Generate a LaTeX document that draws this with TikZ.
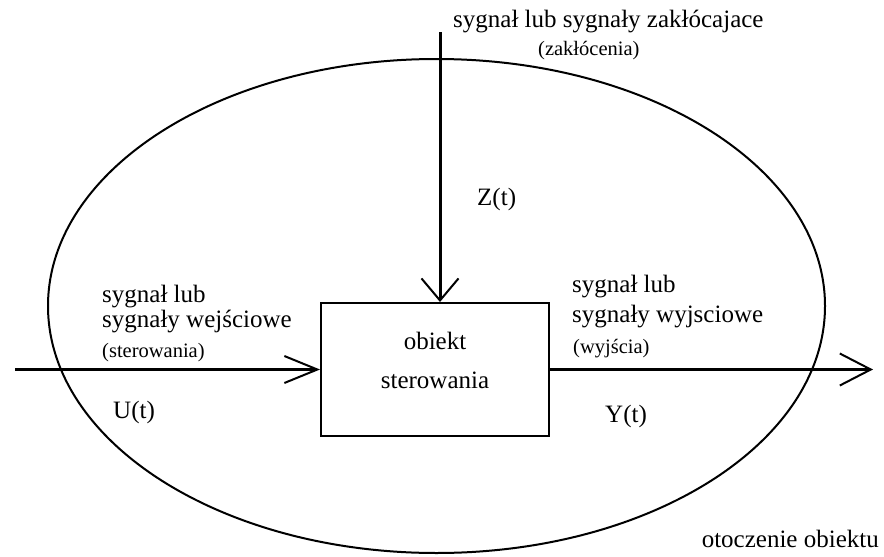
\documentclass[tikz,border=0pt]{standalone}
\usepackage{fontspec}
\setmainfont{Liberation Serif}
\usetikzlibrary{arrows.meta,shapes.geometric}
\begin{document}
\begin{tikzpicture}[x=1pt,y=-1pt,
  txt/.style={anchor=base west,inner sep=0pt,font=\fontsize{25}{30}\selectfont},
  small/.style={anchor=base west,inner sep=0pt,font=\fontsize{20.5}{24}\selectfont},
  boxtxt/.style={anchor=base,inner sep=0pt,font=\fontsize{25}{30}\selectfont},
  signal/.style={line width=3pt},
  thin/.style={line width=2pt}]
\useasboundingbox (0,0) rectangle (884,557);

% surroundings of the plant
\node[ellipse,draw,thin,inner sep=0pt,minimum width=777pt,minimum height=494pt] (env) at (436.5,306) {};

% the controlled plant
\node[draw,thin,inner sep=0pt,minimum width=228pt,minimum height=133pt] (obj) at (435,369.5) {};
\node[boxtxt] (o1) at (435,349) {obiekt};
\node[boxtxt] (o2) at (435,388) {sterowania};

% signal ends
\coordinate (src) at (15,369.5);
\coordinate (dist) at (440,32);
\coordinate (sink) at (873,369.5);

% input, disturbance and output signals
\draw[signal,-{Straight Barb[length=33pt,width=27pt,line width=2pt 0]}] (src) -- (obj.west);
\draw[signal,-{Straight Barb[length=22pt,width=37pt,line width=2pt 0]}] (dist) -- (dist |- obj.north);
\draw[signal,-{Straight Barb[length=31pt,width=32pt,line width=2pt 0]}] (obj.east) -- (sink);

% labels
\node[txt] (zh) at (453,27) {sygnał lub sygnały zakłócajace};
\node[small] (zs) at (538,55) {(zakłócenia)};
\node[txt] (zt) at (477,205) {Z(t)};

\node[txt] (u1) at (102,302) {sygnał lub};
\node[txt] (u2) at (102,327) {sygnały wejściowe};
\node[small] (us) at (102,357) {(sterowania)};
\node[txt] (ut) at (113,418) {U(t)};

\node[txt] (y1) at (572,292) {sygnał lub};
\node[txt] (y2) at (572,322) {sygnały wyjsciowe};
\node[small] (ys) at (573,353) {(wyjścia)};
\node[txt] (yt) at (605,422) {Y(t)};

\node[txt,anchor=base east] (env label) at (879,547) {otoczenie obiektu};
\end{tikzpicture}
\end{document}
